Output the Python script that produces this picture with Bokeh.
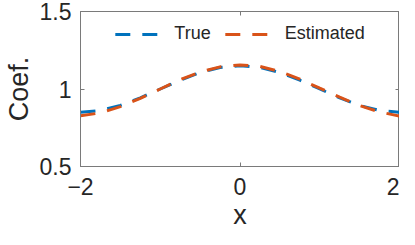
from bokeh.plotting import figure
from bokeh.models import LinearAxis, FixedTicker, Range1d, Legend, LegendItem, Title
from bokeh.embed import file_html
from bokeh.resources import INLINE

x_vals = [-2.0, -1.75, -1.5, -1.25, -1.0, -0.75, -0.5, -0.25, 0.0,
          0.25, 0.5, 0.75, 1.0, 1.25, 1.5, 1.75, 2.0]
true_vals = [0.850, 0.861, 0.894, 0.943, 1.000, 1.057, 1.106, 1.139, 1.150,
             1.139, 1.106, 1.057, 1.000, 0.943, 0.894, 0.861, 0.850]
est_vals = [0.827, 0.846, 0.886, 0.940, 1.000, 1.060, 1.110, 1.143, 1.155,
            1.146, 1.113, 1.064, 1.005, 0.947, 0.893, 0.852, 0.825]
x_ticks = [-2, 0, 2]
y_ticks = [0.5, 1, 1.5]
series_names = ["True", "Estimated"]
x_label_text = "x"
y_label_text = "Coef."

TXT = "#262626"
AX = "#7a7a7a"
FONT = "Liberation Sans"

p = figure(width=399, height=229, output_backend="svg", toolbar_location=None,
           x_range=Range1d(-2, 2), y_range=Range1d(0.5, 1.5),
           y_axis_label=y_label_text,
           min_border_left=0, min_border_right=0, min_border_top=11, min_border_bottom=0)
p.grid.visible = False
p.outline_line_color = AX
p.outline_line_width = 1
p.background_fill_color = "white"
p.border_fill_color = "white"

for ax, ticks in ((p.xaxis[0], x_ticks), (p.yaxis[0], y_ticks)):
    ax.ticker = FixedTicker(ticks=ticks)
    ax.minor_tick_line_color = None
    ax.major_tick_in = 4
    ax.major_tick_out = 0
    ax.major_tick_line_color = AX
    ax.axis_line_color = AX
    ax.major_label_text_font = FONT
    ax.major_label_text_font_size = "23px"
    ax.major_label_text_color = TXT
    ax.axis_label_text_font = FONT
    ax.axis_label_text_font_size = "27px"
    ax.axis_label_text_font_style = "normal"
    ax.axis_label_text_color = TXT
    ax.axis_label_text_line_height = 0.7

p.xaxis[0].major_label_standoff = 11
p.yaxis[0].major_label_standoff = 9
p.yaxis[0].axis_label_standoff = 3

top_ax = LinearAxis(ticker=FixedTicker(ticks=[], minor_ticks=x_ticks),
                    minor_tick_in=4, minor_tick_out=0, minor_tick_line_color=AX,
                    major_tick_line_color=None, axis_line_color=None)
right_ax = LinearAxis(ticker=FixedTicker(ticks=[], minor_ticks=y_ticks),
                      minor_tick_in=4, minor_tick_out=0, minor_tick_line_color=AX,
                      major_tick_line_color=None, axis_line_color=None)
p.add_layout(top_ax, "above")
p.add_layout(right_ax, "right")

r1 = p.line(x_vals, true_vals, line_color="#0072BD", line_width=3, line_dash="15 12")
r2 = p.line(x_vals, est_vals, line_color="#D95319", line_width=3, line_dash="15 12")

legend = Legend(items=[LegendItem(label=series_names[0], renderers=[r1]),
                       LegendItem(label=series_names[1], renderers=[r2])],
                orientation="horizontal", location="top_center",
                border_line_alpha=0, background_fill_alpha=0,
                glyph_width=44, glyph_height=20, label_standoff=16, spacing=14,
                padding=9, margin=3,
                label_text_font=FONT, label_text_font_size="18px", label_text_color=TXT)
p.add_layout(legend, "center")

xtitle = Title(text=x_label_text, align="center", standoff=0, vertical_align="bottom",
               text_font=FONT, text_font_size="27px", text_font_style="normal",
               text_color=TXT, text_line_height=0.6)
p.add_layout(xtitle, "below")

open("out.html", "w").write(file_html(p, INLINE))
